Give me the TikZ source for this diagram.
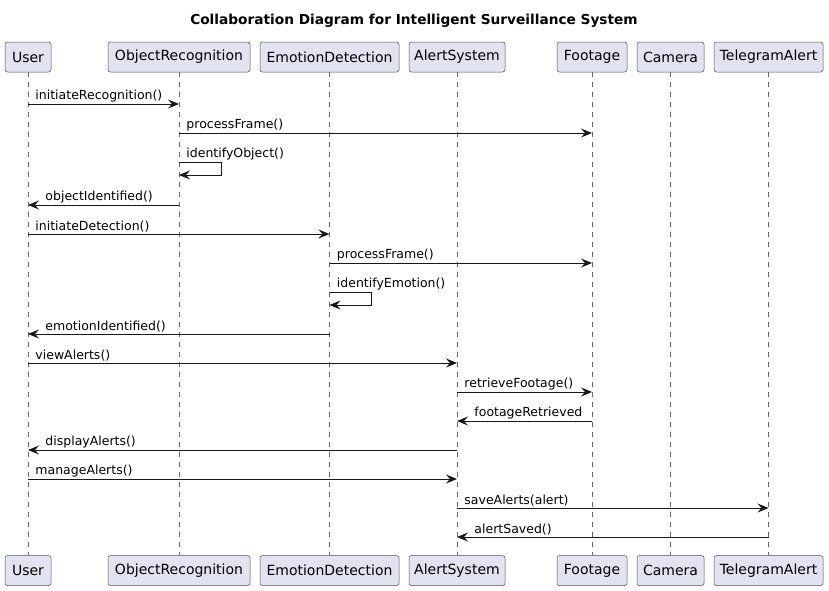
\documentclass[tikz,border=0pt]{standalone}
\usepackage{fontspec}
\setmainfont{DejaVu Sans}
\usepackage{xcolor}
\usetikzlibrary{arrows.meta}
\definecolor{boxfill}{HTML}{E2E2F0}
\definecolor{ink}{HTML}{181818}

\begin{document}
\begin{tikzpicture}[x=1pt,y=-1pt,
    actor/.style={draw=ink!75, line width=0.5pt, fill=boxfill, rounded corners=2.5pt,
      minimum height=30pt, inner sep=0pt, font=\fontsize{14}{16}\selectfont},
    lifeline/.style={draw=ink!65, line width=0.5pt, dash pattern=on 5pt off 5pt},
    msg/.style={draw=ink, line width=0.9pt, -{Stealth[length=11pt,width=9pt,inset=4pt]}},
    lbl/.style={font=\fontsize{12.5}{14}\selectfont, inner sep=0pt, anchor=south west, yshift=1.5pt}]
    \useasboundingbox (0,0) rectangle (829,590);

    % Titre
    \node[font=\bfseries\fontsize{13.7}{16}\selectfont] (title) at (414,21) {Collaboration Diagram for Intelligent Surveillance System};

    % Participants (haut)
    \node[actor, minimum width=46pt]  (user)   at (28,57)    {User};
    \node[actor, minimum width=142pt] (objrec) at (179,57)   {ObjectRecognition};
    \node[actor, minimum width=139pt] (emodet) at (329.5,57) {EmotionDetection};
    \node[actor, minimum width=96pt]  (alert)  at (457,57)   {AlertSystem};
    \node[actor, minimum width=70pt]  (foot)   at (592,57)   {Footage};
    \node[actor, minimum width=67pt]  (cam)    at (670.5,57) {Camera};
    \node[actor, minimum width=109pt] (tele)   at (768.5,57) {TelegramAlert};

    % Participants (bas)
    \node[actor, minimum width=46pt]  (userB)   at (28,570.5)    {User};
    \node[actor, minimum width=142pt] (objrecB) at (179,570.5)   {ObjectRecognition};
    \node[actor, minimum width=139pt] (emodetB) at (329.5,570.5) {EmotionDetection};
    \node[actor, minimum width=96pt]  (alertB)  at (457,570.5)   {AlertSystem};
    \node[actor, minimum width=70pt]  (footB)   at (592,570.5)   {Footage};
    \node[actor, minimum width=67pt]  (camB)    at (670.5,570.5) {Camera};
    \node[actor, minimum width=109pt] (teleB)   at (768.5,570.5) {TelegramAlert};

    % Lignes de vie
    \draw[lifeline] (user.south) -- (userB.north);
    \draw[lifeline] (objrec.south) -- (objrecB.north);
    \draw[lifeline] (emodet.south) -- (emodetB.north);
    \draw[lifeline] (alert.south) -- (alertB.north);
    \draw[lifeline] (foot.south) -- (footB.north);
    \draw[lifeline] (cam.south) -- (camB.north);
    \draw[lifeline] (tele.south) -- (teleB.north);

    % Reconnaissance d'objets
    \draw[msg] (user |- 0,104) -- (objrec |- 0,104) node[lbl, pos=0, xshift=7pt] {initiateRecognition()};
    \draw[msg] (objrec |- 0,133) -- (foot |- 0,133) node[lbl, pos=0, xshift=7pt] {processFrame()};
    \draw[msg] (objrec |- 0,162) node[lbl, xshift=7pt] {identifyObject()} -- ++(42,0) -- ++(0,13) -- (objrec |- 0,175);
    \draw[msg] (objrec |- 0,205) -- (user |- 0,205) node[lbl, pos=1, xshift=17pt] {objectIdentified()};

    % Detection d'emotions
    \draw[msg] (user |- 0,234) -- (emodet |- 0,234) node[lbl, pos=0, xshift=7pt] {initiateDetection()};
    \draw[msg] (emodet |- 0,263) -- (foot |- 0,263) node[lbl, pos=0, xshift=7pt] {processFrame()};
    \draw[msg] (emodet |- 0,292) node[lbl, xshift=7pt] {identifyEmotion()} -- ++(42,0) -- ++(0,13) -- (emodet |- 0,305);
    \draw[msg] (emodet |- 0,334) -- (user |- 0,334) node[lbl, pos=1, xshift=17pt] {emotionIdentified()};

    % Alertes
    \draw[msg] (user |- 0,363) -- (alert |- 0,363) node[lbl, pos=0, xshift=7pt] {viewAlerts()};
    \draw[msg] (alert |- 0,392) -- (foot |- 0,392) node[lbl, pos=0, xshift=7pt] {retrieveFootage()};
    \draw[msg] (foot |- 0,421) -- (alert |- 0,421) node[lbl, pos=1, xshift=17pt] {footageRetrieved};
    \draw[msg] (alert |- 0,450) -- (user |- 0,450) node[lbl, pos=1, xshift=17pt] {displayAlerts()};
    \draw[msg] (user |- 0,479) -- (alert |- 0,479) node[lbl, pos=0, xshift=7pt] {manageAlerts()};
    \draw[msg] (alert |- 0,508) -- (tele |- 0,508) node[lbl, pos=0, xshift=7pt] {saveAlerts(alert)};
    \draw[msg] (tele |- 0,537) -- (alert |- 0,537) node[lbl, pos=1, xshift=17pt] {alertSaved()};
\end{tikzpicture}
\end{document}
